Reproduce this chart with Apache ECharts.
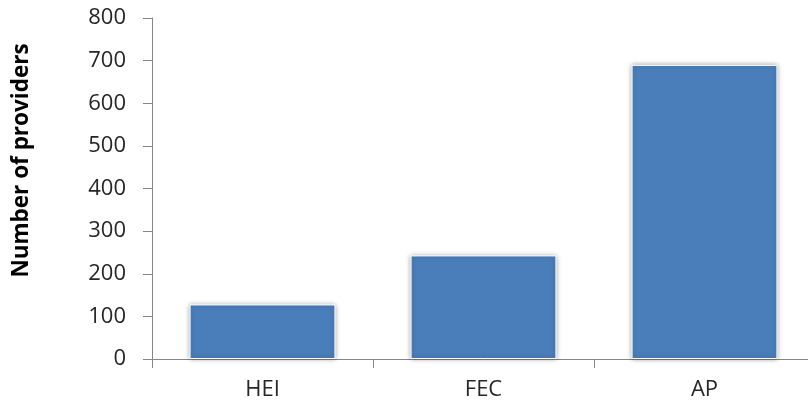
<!DOCTYPE html>
<html>
<head>
<meta charset="utf-8">
<script src="https://cdn.jsdelivr.net/npm/echarts@6/dist/echarts.min.js"></script>
<style>
html,body{margin:0;padding:0;background:#fff;overflow:hidden;}
#chart{width:815px;height:407px;}
</style>
</head>
<body>
<div id="chart"></div>
<script>
var categories = ['HEI', 'FEC', 'AP'];
var providers = [128, 243, 690];
var yTicks = { min: 0, max: 800, interval: 100 };

var chart = echarts.init(document.getElementById('chart'), null, { renderer: 'canvas' });
var axisColor = '#868686';
var textColor = '#262626';
var font = 'Open Sans';
chart.setOption({
  animation: false,
  grid: { left: 152, top: 18, right: 0, height: 341, containLabel: false },
  xAxis: {
    type: 'category',
    data: categories,
    boundaryGap: true,
    axisLine: { lineStyle: { color: axisColor, width: 1 } },
    axisTick: { show: true, length: 9, lineStyle: { color: axisColor } },
    axisLabel: { color: textColor, fontFamily: font, fontSize: 22, margin: 20 }
  },
  yAxis: {
    type: 'value',
    min: yTicks.min,
    max: yTicks.max,
    interval: yTicks.interval,
    name: 'Number of providers',
    nameLocation: 'middle',
    nameGap: 119,
    nameRotate: 90,
    nameTextStyle: { color: '#000', fontFamily: font, fontSize: 22.5, fontWeight: 'bold', padding: [0, 0, 0, 56] },
    axisLine: { show: true, lineStyle: { color: axisColor, width: 1 } },
    axisTick: { show: true, length: 9, lineStyle: { color: axisColor } },
    splitLine: { show: false },
    axisLabel: { color: textColor, fontFamily: font, fontSize: 22, margin: 26 }
  },
  series: [{
    type: 'bar',
    data: providers,
    barWidth: '66%',
    itemStyle: {
      color: '#4A7EBB',
      borderColor: '#ffffff',
      borderWidth: 1,
      shadowBlur: 5,
      shadowColor: 'rgba(0,0,0,0.35)',
      shadowOffsetX: 0,
      shadowOffsetY: 0
    }
  }]
});
</script>
</body>
</html>
